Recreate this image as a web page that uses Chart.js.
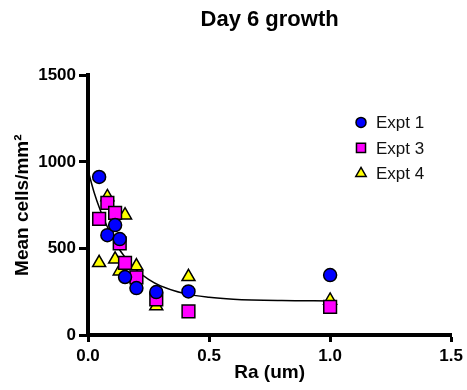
<!DOCTYPE html>
<html>
<head>
<meta charset="utf-8">
<script src="https://cdn.jsdelivr.net/npm/chart.js@4"></script>
<style>
  body { margin: 0; background: #fff; }
</style>
</head>
<body>
<canvas id="growthChart" width="467" height="390"></canvas>
<script>
// Ra values shared by all experiments
const raValues = [0.046, 0.08, 0.112, 0.131, 0.153, 0.2, 0.282, 0.415, 1.0];
const expt1 = [913, 577, 635, 554, 335, 271, 248, 252, 346];
const expt3 = [671, 764, 706, 529, 417, 333, 206, 137, 163];
const expt4 = [417, 798, 437, 369, 692, 398, 167, 336, 200];

// fitted curve
const fitX = [0, 0.025, 0.05, 0.075, 0.1, 0.125, 0.15, 0.2, 0.25, 0.3, 0.4, 0.5, 0.6, 0.8, 1.0];
const fitY = [952, 825, 724, 640, 566, 504, 455, 376, 322, 284, 239, 218, 207, 199, 197];

const xTicks = [0, 0.5, 1.0, 1.5];
const yTicks = [0, 500, 1000, 1500];

const FONT = '"Liberation Sans", Arial, Helvetica, sans-serif';

const toPoints = (xs, ys) => xs.map((x, i) => ({x: x, y: ys[i]}));

const scatterSet = (label, ys, color, style, radius) => ({
    type: 'scatter',
    label: label,
    data: toPoints(raValues, ys),
    backgroundColor: color,
    borderColor: '#000',
    borderWidth: 1.5,
    pointStyle: style,
    pointRadius: radius,
    pointHoverRadius: radius,
    legendStyle: true
});

// legend drawn inside the plot, top right
const insideLegend = {
    id: 'insideLegend',
    afterDraw(chart) {
        const ctx = chart.ctx;
        const area = chart.chartArea;
        const sizes = {circle: 5, rect: 6.4, triangle: 6};
        let row = 0;
        chart.data.datasets.forEach(ds => {
            if (!ds.legendStyle) return;
            const x = area.left + 273;
            const y = area.top + 47 + row * 25.5;
            ctx.save();
            ctx.fillStyle = ds.backgroundColor;
            ctx.strokeStyle = '#000';
            ctx.lineWidth = 1.5;
            Chart.helpers.drawPoint(ctx, {pointStyle: ds.pointStyle, radius: sizes[ds.pointStyle], rotation: 0, borderWidth: 1.5}, x, y);
            ctx.fillStyle = '#111';
            ctx.font = '17px ' + FONT;
            ctx.textAlign = 'left';
            ctx.textBaseline = 'middle';
            ctx.fillText(ds.label, x + 15, y + 1);
            ctx.restore();
            row++;
        });
    }
};

const ctx = document.getElementById('growthChart').getContext('2d');
new Chart(ctx, {
    data: {
        datasets: [
            scatterSet('Expt 1', expt1, '#0000ff', 'circle', 6.5),
            scatterSet('Expt 3', expt3, '#ff00ff', 'rect', 9),
            scatterSet('Expt 4', expt4, '#ffff00', 'triangle', 7.5),
            {
                type: 'line',
                label: 'fit',
                data: toPoints(fitX, fitY),
                borderColor: '#000',
                borderWidth: 1.5,
                pointRadius: 0,
                fill: false,
                cubicInterpolationMode: 'monotone'
            }
        ]
    },
    options: {
        responsive: false,
        animation: false,
        devicePixelRatio: 1,
        layout: {
            padding: {left: 0, right: 14, top: 0, bottom: 0}
        },
        plugins: {
            legend: {display: false},
            tooltip: {enabled: false},
            title: {
                display: true,
                text: 'Day 6 growth',
                fullSize: false,
                color: '#000',
                font: {family: FONT, size: 22, weight: 'bold'},
                padding: {top: 7, bottom: 42}
            }
        },
        scales: {
            x: {
                type: 'linear',
                min: 0,
                max: 1.5,
                afterBuildTicks: scale => { scale.ticks = xTicks.map(v => ({value: v})); },
                afterFit: scale => { scale.height = 55; },
                ticks: {
                    color: '#000',
                    padding: 4,
                    font: {family: FONT, size: 17, weight: 'bold'},
                    callback: v => v.toFixed(1)
                },
                grid: {
                    drawOnChartArea: false,
                    color: '#000',
                    tickLength: 7,
                    tickWidth: 3
                },
                border: {color: '#000', width: 4},
                title: {
                    display: true,
                    text: 'Ra (um)',
                    color: '#000',
                    font: {family: FONT, size: 19, weight: 'bold'},
                    padding: {top: 0, bottom: 6}
                }
            },
            y: {
                type: 'linear',
                min: 0,
                max: 1500,
                afterBuildTicks: scale => { scale.ticks = yTicks.map(v => ({value: v})); },
                afterFit: scale => { scale.width = 88; },
                ticks: {
                    color: '#000',
                    padding: 3,
                    font: {family: FONT, size: 17, weight: 'bold'},
                    callback: v => String(v)
                },
                grid: {
                    drawOnChartArea: false,
                    color: '#000',
                    tickLength: 9,
                    tickWidth: 3
                },
                border: {color: '#000', width: 4},
                title: {
                    display: true,
                    text: 'Mean cells/mm²',
                    color: '#000',
                    font: {family: FONT, size: 19, weight: 'bold'},
                    padding: {top: 11, bottom: 0}
                }
            }
        }
    },
    plugins: [insideLegend]
});
</script>
</body>
</html>
